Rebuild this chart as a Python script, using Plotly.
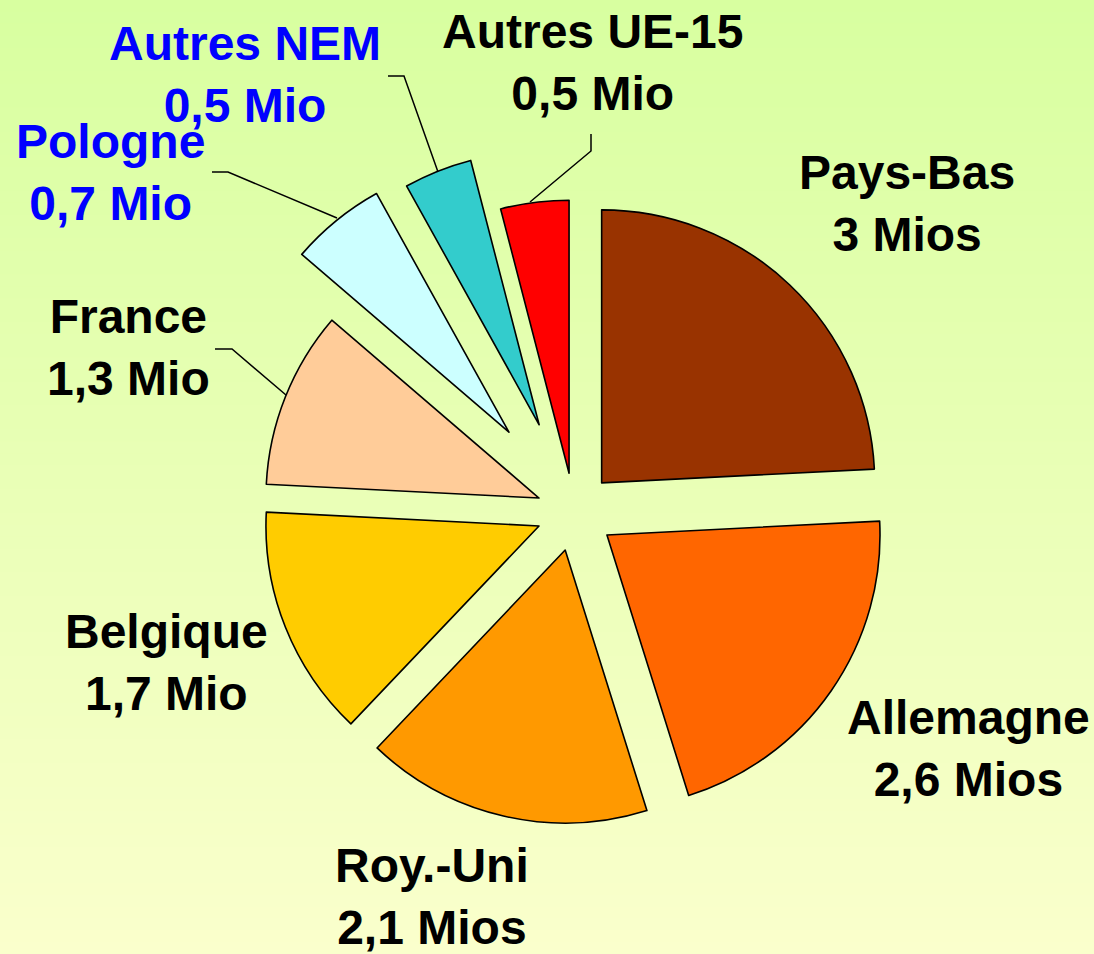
import plotly.graph_objects as go

W, H = 1094, 954

# ---- data ----
labels = ["Pays-Bas", "Allemagne", "Roy.-Uni", "Belgique", "France",
          "Pologne", "Autres NEM", "Autres UE-15"]
values = [3.0, 2.6, 2.1, 1.7, 1.3, 0.7, 0.5, 0.5]
units = ["Mios", "Mios", "Mios", "Mio", "Mio", "Mio", "Mio", "Mio"]
colors = ["#993300", "#FF6600", "#FF9900", "#FFCC00", "#FFCC99",
          "#CCFFFF", "#33CCCC", "#FF0000"]
pulls = [0.147, 0.147, 0.143, 0.138, 0.138, 0.377, 0.344, 0.143]
label_colors = ["black", "black", "black", "black", "black",
                "#0000FF", "#0000FF", "black"]

# label positions in pixels (center x, center y)
label_pos = [(907, 203), (968, 748), (432, 896), (166, 662), (128, 348),
             (110, 172), (245, 75), (592, 62)]

# leader lines in pixels (polyline) for some slices
leaders = {
    "France": [(215, 349), (232, 349), (286, 395)],
    "Pologne": [(212, 172), (228, 172), (337, 218)],
    "Autres NEM": [(388, 76), (404, 76), (438, 172)],
    "Autres UE-15": [(591, 134), (591, 151), (530, 202)],
}


def fmt(v, u):
    s = ("%g" % v).replace(".", ",")
    return f"{s} {u}"


def px(x):
    return x / W


def py(y):
    return 1 - y / H


fig = go.Figure()

fig.add_trace(go.Pie(
    labels=labels,
    values=values,
    sort=False,
    direction="clockwise",
    rotation=0,
    pull=pulls,
    marker=dict(colors=colors, line=dict(color="black", width=1.6)),
    textinfo="none",
    hoverinfo="label+value",
    showlegend=False,
    domain=dict(x=[198 / W, 950 / W], y=[1 - 888 / H, 1 - 136 / H]),
))

# background gradient
top = (216, 255, 160)
bot = (250, 255, 204)
n = 80
shapes = []
for i in range(n):
    t = i / (n - 1)
    c = tuple(round(top[k] + (bot[k] - top[k]) * t) for k in range(3))
    shapes.append(dict(type="rect", xref="paper", yref="paper",
                       x0=0, x1=1, y0=1 - (i + 1) / n - 0.002, y1=1 - i / n,
                       fillcolor="rgb(%d,%d,%d)" % c, line=dict(width=0),
                       layer="below"))

for name, pts in leaders.items():
    path = "M " + " L ".join(f"{px(x)},{py(y)}" for x, y in pts)
    shapes.append(dict(type="path", xref="paper", yref="paper", path=path,
                       line=dict(color="black", width=1.5), layer="above"))

annotations = []
for lab, v, u, (x, y), col in zip(labels, values, units, label_pos, label_colors):
    annotations.append(dict(
        text=f"{lab}<br>{fmt(v, u)}",
        x=px(x), y=py(y), xref="paper", yref="paper",
        xanchor="center", yanchor="middle", align="center",
        showarrow=False,
        font=dict(family="Liberation Sans, Arial, sans-serif", size=48,
                  color=col, weight="bold"),
    ))

fig.update_layout(
    width=W, height=H,
    margin=dict(l=0, r=0, t=0, b=0),
    paper_bgcolor="rgb(233,255,182)",
    plot_bgcolor="rgba(0,0,0,0)",
    shapes=shapes,
    annotations=annotations,
    showlegend=False,
)

fig.write_html(
    "out.html",
    config={"displayModeBar": False},
    post_script="document.body.style.margin='0';document.body.style.overflow='hidden';",
)
